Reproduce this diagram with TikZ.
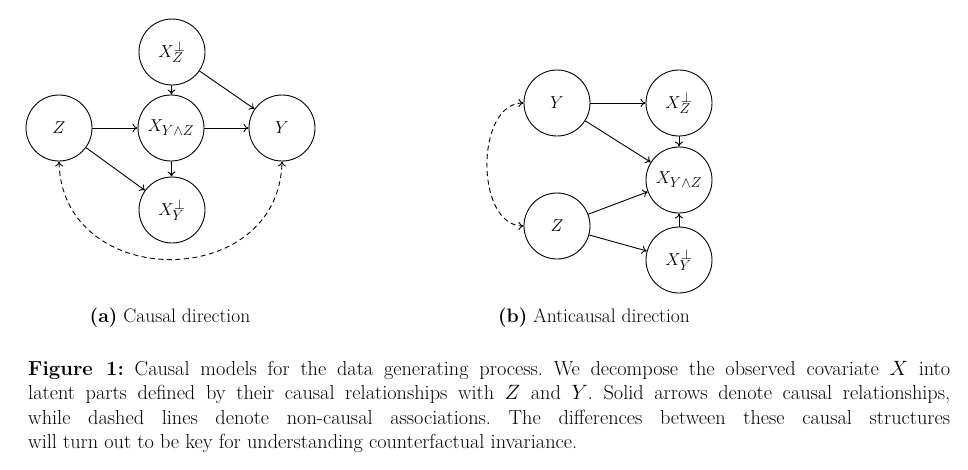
\documentclass[tikz,border=0pt]{standalone}
\usetikzlibrary{arrows.meta}
\begin{document}
\frenchspacing
\begin{tikzpicture}[x=1pt,y=-1pt,
  var/.style={draw,circle,line width=0.9pt,minimum size=66pt,inner sep=0pt,font=\fontsize{19}{21}\selectfont},
  arr/.style={line width=0.9pt,-{To[length=5pt,width=8pt]}},
  assoc/.style={line width=0.9pt,dash pattern=on 5pt off 3.5pt,{To[length=5pt,width=8pt]}-{To[length=5pt,width=8pt]}},
  sub/.style={font=\fontsize{19.5}{22}\selectfont}]
\useasboundingbox (0,0) rectangle (968,469);
% panel (a)
\node[var] (aXZ) at (172,52) {$X_Z^{\perp}$};
\node[var] (aZ) at (59,128) {$Z$};
\node[var] (aXYZ) at (171,128) {$X_{Y\wedge Z}$};
\node[var] (aY) at (282,128) {$Y$};
\node[var] (aXY) at (172,210) {$X_Y^{\perp}$};
\draw[arr] (aXZ) -- (aXYZ);
\draw[arr] (aXZ) -- (aY);
\draw[arr] (aZ) -- (aXYZ);
\draw[arr] (aXYZ) -- (aY);
\draw[arr] (aXYZ) -- (aXY);
\draw[arr] (aZ) -- (aXY);
\draw[assoc] (aZ.south) .. controls (62,292) and (279,292) .. (aY.south);
% panel (b)
\node[var] (bY) at (557,103) {$Y$};
\node[var] (bXZ) at (679,103) {$X_Z^{\perp}$};
\node[var] (bXYZ) at (679,180) {$X_{Y\wedge Z}$};
\node[var] (bZ) at (557,226) {$Z$};
\node[var] (bXY) at (679,260) {$X_Y^{\perp}$};
\draw[arr] (bY) -- (bXZ);
\draw[arr] (bY) -- (bXYZ);
\draw[arr] (bXZ) -- (bXYZ);
\draw[arr] (bZ) -- (bXYZ);
\draw[arr] (bZ) -- (bXY);
\draw[arr] (bXY) -- (bXYZ);
\draw[assoc] (bY.west) .. controls (475,103) and (475,226) .. (bZ.west);
% sub-captions
\node[sub] (capa) at (170,318) {\textbf{(a)} Causal direction};
\node[sub] (capb) at (594,318) {\textbf{(b)} Anticausal direction};
% main caption
\node[anchor=north west,inner sep=0pt,text width=922pt,align=justify,
  font=\fontsize{20.3}{24.5}\selectfont] (cap) at (28,361)
{\textbf{Figure 1:}\ Causal models for the data generating process. We decompose the observed covariate $X$ into\linebreak
latent parts defined by their causal relationships with $Z$ and $Y$. Solid arrows denote causal relationships,\linebreak
while dashed lines denote non-causal associations. The differences between these causal structures\linebreak
will turn out to be key for understanding counterfactual invariance.};
\end{tikzpicture}
\end{document}
